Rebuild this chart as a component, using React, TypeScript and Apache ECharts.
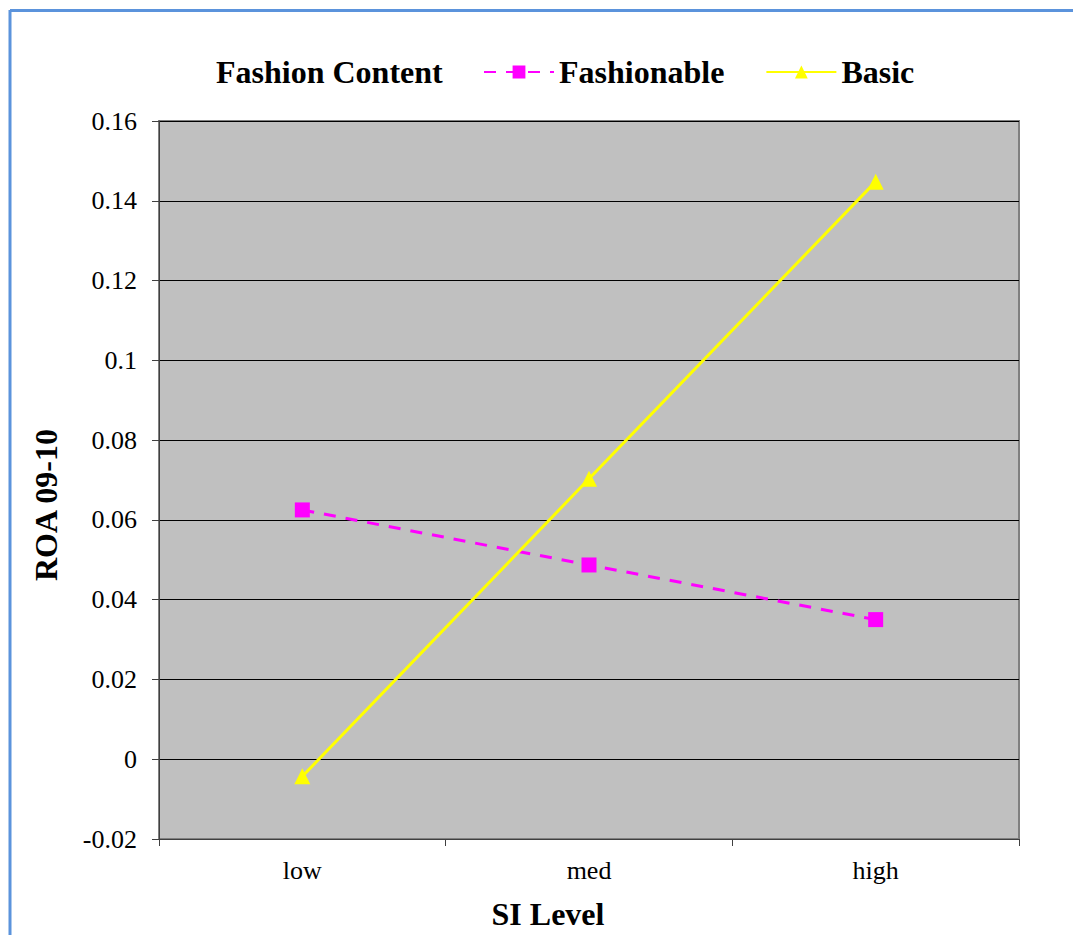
import React, { useEffect, useRef } from "react";
import * as echarts from "echarts";

const categories = ["low", "med", "high"];
const fashionable = [0.0625, 0.0487, 0.035];
const basic = [-0.0043, 0.0703, 0.1448];
const yTicks = { min: -0.02, max: 0.16, interval: 0.02 };

export default function App() {
  const ref = useRef<HTMLDivElement>(null);
  useEffect(() => {
    document.body.style.margin = "0";
    const chart = echarts.init(ref.current!, null, { renderer: "svg" });
    const font = "Liberation Serif";
    chart.setOption({
      animation: false,
      textStyle: { fontFamily: font },
      grid: { left: 159, right: 54, top: 121, bottom: 96, show: true, backgroundColor: "#C0C0C0", borderColor: "#808080", borderWidth: 2 },
      legend: {
        left: 478,
        top: 51,
        itemWidth: 70,
        itemHeight: 16,
        itemGap: 41,
        textStyle: { fontFamily: font, fontSize: 32, fontWeight: "bold", color: "#000" },
        data: ["Fashionable", "Basic"],
      },
      graphic: [
        { type: "line", shape: { x1: 10, y1: 10.5, x2: 1073, y2: 10.5 }, style: { stroke: "#5B93DC", lineWidth: 3 } },
        { type: "line", shape: { x1: 10, y1: 10, x2: 10, y2: 935 }, style: { stroke: "#5B93DC", lineWidth: 3 } },
        { type: "text", x: 216, y: 72, style: { text: "Fashion Content", fontFamily: font, fontSize: 32, fontWeight: "bold", fill: "#000", verticalAlign: "middle" } },
        { type: "text", x: 46, y: 505, rotation: Math.PI / 2, style: { text: "ROA 09-10", fontFamily: font, fontSize: 32, fontWeight: "bold", fill: "#000", align: "center", verticalAlign: "middle" } },
        { type: "text", x: 548, y: 914, style: { text: "SI Level", fontFamily: font, fontSize: 32, fontWeight: "bold", fill: "#000", align: "center", verticalAlign: "middle" } },
      ],
      xAxis: {
        type: "category",
        data: categories,
        boundaryGap: true,
        axisLine: { onZero: false, lineStyle: { color: "#404040", width: 1 } },
        axisTick: { show: true, length: 7, lineStyle: { color: "#404040" } },
        axisLabel: { fontSize: 26, color: "#000", margin: 18, fontFamily: font },
      },
      yAxis: {
        type: "value",
        min: yTicks.min,
        max: yTicks.max,
        interval: yTicks.interval,
        axisLine: { show: true, lineStyle: { color: "#404040", width: 1 } },
        axisTick: { show: true, length: 7, lineStyle: { color: "#404040" } },
        axisLabel: {
          fontSize: 26,
          color: "#000",
          margin: 22,
          fontFamily: font,
          formatter: (v: number) => String(parseFloat(v.toFixed(2))),
        },
        splitLine: { show: true, lineStyle: { color: "#000", width: 1 } },
      },
      series: [
        {
          name: "Fashionable",
          type: "line",
          data: fashionable,
          symbol: "rect",
          symbolSize: 15,
          itemStyle: { color: "#FF00FF" },
          lineStyle: { color: "#FF00FF", width: 3, type: [12, 10] },
        },
        {
          name: "Basic",
          type: "line",
          data: basic,
          symbol: "triangle",
          symbolSize: 16,
          itemStyle: { color: "#FFFF00" },
          lineStyle: { color: "#FFFF00", width: 3 },
        },
      ],
    });
    return () => chart.dispose();
  }, []);
  return <div ref={ref} style={{ width: 1073, height: 935 }} />;
}
